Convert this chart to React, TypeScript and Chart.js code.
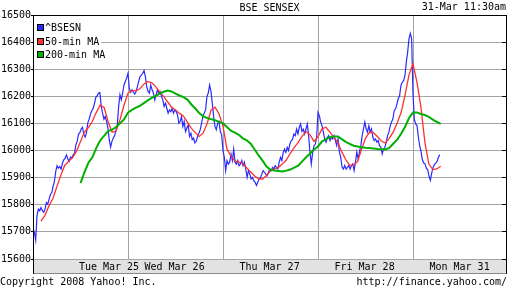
import React, { useEffect, useRef } from "react";
import { Chart, registerables } from "chart.js";

Chart.register(...registerables);

// ---------------- data ----------------
const TITLE = "BSE SENSEX";
const TIMESTAMP = "31-Mar 11:30am";
const COPYRIGHT = "Copyright 2008 Yahoo! Inc.";
const SOURCE_URL = "http://finance.yahoo.com/";
const SERIES_NAMES = ["^BSESN", "50-min MA", "200-min MA"];
const DAY_LABELS = ["Tue Mar 25", "Wed Mar 26", "Thu Mar 27", "Fri Mar 28", "Mon Mar 31"];
const DAY_LABEL_AT = [0.8, 1.49, 2.49, 3.49, 4.49];
const Y_TICKS = [15600, 15700, 15800, 15900, 16000, 16100, 16200, 16300, 16400, 16500];
const DAY_COUNT = 5;
const QUOTES_PER_DAY = 71;
const MA_POINTS_PER_DAY = 24;

const sensexTue = [
  15712, 15700, 15670, 15760, 15784, 15778, 15790, 15778, 15772, 15784,
  15808, 15802, 15820, 15838, 15844, 15868, 15886, 15923, 15944, 15935,
  15941, 15932, 15953, 15966, 15972, 15984, 15969, 15960, 15976, 15972,
  15984, 15990, 16021, 16033, 16061, 16066, 16079, 16086, 16058, 16050,
  16066, 16103, 16116, 16135, 16148, 16156, 16175, 16197, 16202, 16212,
  16214, 16163, 16138, 16116, 16126, 16107, 16083, 16040, 16013, 16034,
  16046, 16055, 16074, 16095, 16163, 16206, 16187, 16212, 16242, 16255,
  16267,
];
const sensexWed = [
  16285, 16230, 16215, 16224, 16215, 16208, 16218, 16235, 16255, 16273,
  16278, 16285, 16295, 16273, 16236, 16218, 16212, 16242, 16224, 16212,
  16187, 16205, 16224, 16212, 16218, 16200, 16187, 16163, 16175, 16156,
  16138, 16150, 16144, 16156, 16138, 16150, 16144, 16132, 16101, 16107,
  16126, 16089, 16107, 16070, 16083, 16095, 16052, 16064, 16040, 16046,
  16028, 16034, 16052, 16064, 16077, 16101, 16126, 16138, 16150, 16199,
  16212, 16242, 16218, 16175, 16126, 16089, 16077, 16101, 16107, 16070,
  16058,
];
const sensexThu = [
  16000, 15975, 15926, 15963, 15950, 15957, 15987, 15963, 16005, 15957,
  15950, 15963, 15944, 15950, 15963, 15944, 15957, 15932, 15901, 15926,
  15913, 15895, 15901, 15889, 15883, 15871, 15883, 15895, 15901, 15913,
  15926, 15920, 15913, 15907, 15920, 15932, 15926, 15938, 15932, 15944,
  15938, 15932, 15957, 15975, 15963, 15993, 16005, 15993, 16012, 16000,
  16024, 16036, 16042, 16061, 16055, 16079, 16061, 16085, 16098, 16071,
  16079, 16061, 16079, 16098, 16055, 15993, 15950, 15993, 16018, 16024,
  16049,
];
const sensexFri = [
  16141, 16129, 16105, 16092, 16068, 16043, 16031, 16049, 16055, 16037,
  16049, 16043, 16055, 16037, 16018, 16043, 15994, 15975, 15938, 15932,
  15945, 15932, 15938, 15945, 15932, 15945, 15951, 15926, 15957, 15994,
  15969, 15994, 16018, 16055, 16080, 16105, 16080, 16068, 16092, 16068,
  16080, 16049, 16037, 16043, 16031, 16037, 16018, 16012, 15988, 16006,
  16012, 16031, 16055, 16068, 16092, 16105, 16117, 16148, 16154, 16172,
  16191, 16203, 16240, 16252, 16258, 16277, 16326, 16363, 16412, 16432,
  16412,
];
const sensexMon = [
  16209, 16115, 16098, 16092, 16050, 16018, 15997, 15966, 15954, 15951,
  15935, 15929, 15905, 15890, 15918, 15938, 15948, 15954, 15960, 15975,
  15985,
];

const ma50Tue = [null, null, 15740, 15760, 15795, 15822, 15865, 15908, 15945, 15960, 15974, 15998,
  16033, 16068, 16085, 16108, 16141, 16168, 16158, 16105, 16068, 16072, 16115, 16168];
const ma50Wed = [16212, 16222, 16220, 16228, 16245, 16255, 16250, 16236, 16216, 16200, 16180, 16160,
  16150, 16137, 16128, 16105, 16082, 16066, 16052, 16065, 16100, 16150, 16160, 16135];
const ma50Thu = [16090, 16005, 15980, 15962, 15957, 15953, 15936, 15921, 15906, 15896, 15895, 15908,
  15925, 15932, 15938, 15950, 15965, 15990, 16012, 16030, 16053, 16070, 16058, 16034];
const ma50Fri = [16050, 16080, 16086, 16068, 16049, 16030, 15995, 15967, 15945, 15945, 15960, 16005,
  16045, 16068, 16066, 16052, 16035, 16028, 16045, 16068, 16102, 16140, 16205, 16280];
const ma50Mon = [16320, 16252, 16160, 16031, 15951, 15930, 15932, 15942];

const ma200Tue = [null, null, null, null, null, null, null, null, null, null, null, null,
  15880, 15920, 15955, 15975, 16010, 16038, 16055, 16072, 16077, 16087, 16101, 16115];
const ma200Wed = [16140, 16150, 16158, 16165, 16175, 16185, 16194, 16202, 16210, 16217, 16221, 16218,
  16210, 16203, 16197, 16188, 16170, 16155, 16138, 16126, 16120, 16116, 16112, 16106];
const ma200Thu = [16100, 16087, 16073, 16066, 16058, 16045, 16038, 16025, 16004, 15982, 15963, 15941,
  15929, 15926, 15925, 15923, 15926, 15930, 15937, 15944, 15960, 15975, 15989, 16004];
const ma200Fri = [16015, 16033, 16042, 16049, 16052, 16052, 16042, 16032, 16025, 16018, 16015, 16012,
  16010, 16009, 16008, 16006, 16005, 16004, 16010, 16025, 16040, 16062, 16088, 16120];
const ma200Mon = [16140, 16140, 16135, 16131, 16124, 16114, 16106, 16098];

// ---------------- styles ----------------
const FONT = '"DejaVu Sans Mono", "Liberation Mono", monospace';
const COLORS = ["#2a2aff", "#ff3030", "#00b000"];
const GRID = "#a4a4a4";
const BAND = "#e2e2e2";

type Pt = { x: number; y: number | null };
function buildSeries(days: (number | null)[][], perDay: number): Pt[] {
  const pts: Pt[] = [];
  days.forEach((vals, d) => vals.forEach((v, i) => pts.push({ x: d + i / perDay, y: v })));
  return pts;
}

const decor = {
  id: "yahooDecor",
  beforeDraw(chart: any) {
    const ctx = chart.ctx;
    ctx.save();
    ctx.fillStyle = "#fff";
    ctx.fillRect(0, 0, chart.width, chart.height);
    ctx.restore();
  },
  afterDraw(chart: any) {
    const ctx = chart.ctx;
    const a = chart.chartArea;
    const xs = chart.scales.x;
    const ys = chart.scales.y;
    const left = Math.round(a.left);
    const top = Math.round(a.top);
    const right = Math.round(a.right) - 2;
    const bottom = Math.round(a.bottom);
    ctx.save();
    // clear overflow right of frame
    ctx.fillStyle = "#fff";
    ctx.fillRect(right + 1, 0, chart.width - right - 1, bottom + 1);
    // date band
    ctx.fillStyle = BAND;
    ctx.fillRect(left, bottom + 1, right - left, 13);
    ctx.fillStyle = "#8a8a8a";
    ctx.fillRect(left, bottom + 14, right - left, 1);
    // frame
    ctx.fillStyle = "#000";
    ctx.fillRect(left, top, 1, bottom + 15 - top);
    ctx.fillRect(left, top, right - left + 1, 1);
    ctx.fillRect(right, top, 1, bottom + 15 - top);
    // right-side inner ticks
    Y_TICKS.forEach((v) => {
      const py = Math.round(ys.getPixelForValue(v) - 0.5);
      ctx.fillRect(right - 4, py, 4, 1);
    });
    // legend
    ctx.font = `10px ${FONT}`;
    ctx.textBaseline = "middle";
    ctx.textAlign = "left";
    SERIES_NAMES.forEach((name, i) => {
      const sq = top + 9 + i * 13.5;
      const sy = Math.round(sq);
      const tw = ctx.measureText(name).width;
      ctx.fillStyle = "#fff";
      ctx.fillRect(left + 1, sy - 2, tw + 13, 11);
      ctx.fillStyle = "#000";
      ctx.fillRect(left + 4, sy, 7, 7);
      ctx.fillStyle = COLORS[i];
      ctx.fillRect(left + 5, sy + 1, 5, 5);
      ctx.fillStyle = "#000";
      ctx.fillText(name, left + 12, sy + 4);
    });
    // title and timestamp
    ctx.fillStyle = "#000";
    ctx.textAlign = "center";
    ctx.fillText(TITLE, (left + right) / 2, 8);
    ctx.textAlign = "right";
    ctx.fillText(TIMESTAMP, right, 7);
    // date labels
    ctx.textAlign = "center";
    DAY_LABELS.forEach((lab, i) => {
      ctx.fillText(lab, xs.getPixelForValue(DAY_LABEL_AT[i]), bottom + 8);
    });
    // footer
    ctx.textAlign = "left";
    ctx.fillText(COPYRIGHT, 0, 282);
    ctx.textAlign = "right";
    ctx.fillText(SOURCE_URL, right + 1, 282);
    ctx.restore();
  },
};

export default function App() {
  const ref = useRef<HTMLCanvasElement>(null);
  useEffect(() => {
    const canvas = ref.current;
    if (!canvas) return;
    const chart = new Chart(canvas, {
      type: "line",
      data: {
        datasets: [
          {
            label: SERIES_NAMES[2],
            data: buildSeries([ma200Tue, ma200Wed, ma200Thu, ma200Fri, ma200Mon], MA_POINTS_PER_DAY) as any,
            borderColor: COLORS[2],
            borderWidth: 2,
            pointRadius: 0,
            tension: 0,
          },
          {
            label: SERIES_NAMES[1],
            data: buildSeries([ma50Tue, ma50Wed, ma50Thu, ma50Fri, ma50Mon], MA_POINTS_PER_DAY) as any,
            borderColor: COLORS[1],
            borderWidth: 1.3,
            pointRadius: 0,
            tension: 0,
          },
          {
            label: SERIES_NAMES[0],
            data: buildSeries([sensexTue, sensexWed, sensexThu, sensexFri, sensexMon], QUOTES_PER_DAY) as any,
            borderColor: COLORS[0],
            borderWidth: 1.2,
            pointRadius: 0,
            tension: 0,
          },
        ],
      },
      options: {
        responsive: false,
        animation: false,
        devicePixelRatio: 1,
        layout: { padding: { top: 15, right: 4, left: 0, bottom: 0 } },
        plugins: {
          legend: { display: false },
          tooltip: { enabled: false },
          title: { display: false },
        },
        scales: {
          x: {
            type: "linear",
            min: 0,
            max: DAY_COUNT,
            afterBuildTicks: (s: any) => {
              s.ticks = DAY_LABELS.slice(1).map((_, i) => ({ value: i + 1 }));
            },
            afterFit: (s: any) => {
              s.height = 29;
            },
            ticks: { display: false },
            grid: { color: GRID, drawTicks: false, lineWidth: 1 },
            border: { display: false },
          },
          y: {
            type: "linear",
            min: Y_TICKS[0],
            max: Y_TICKS[Y_TICKS.length - 1],
            afterBuildTicks: (s: any) => {
              s.ticks = Y_TICKS.map((v) => ({ value: v }));
            },
            afterFit: (s: any) => {
              s.width = 33;
            },
            ticks: {
              color: "#000",
              padding: 0,
              font: { family: FONT, size: 10 },
              callback: (v: any) => String(v),
            },
            grid: { color: GRID, tickColor: "#000", tickLength: 2, lineWidth: 1 },
            border: { display: false },
          },
        },
      } as any,
      plugins: [decor],
    });
    return () => chart.destroy();
  }, []);
  return (
    <div style={{ position: "fixed", left: 0, top: 0, width: 512, height: 288, background: "#fff" }}>
      <canvas ref={ref} width={512} height={288} style={{ display: "block", width: 512, height: 288 }} />
    </div>
  );
}
